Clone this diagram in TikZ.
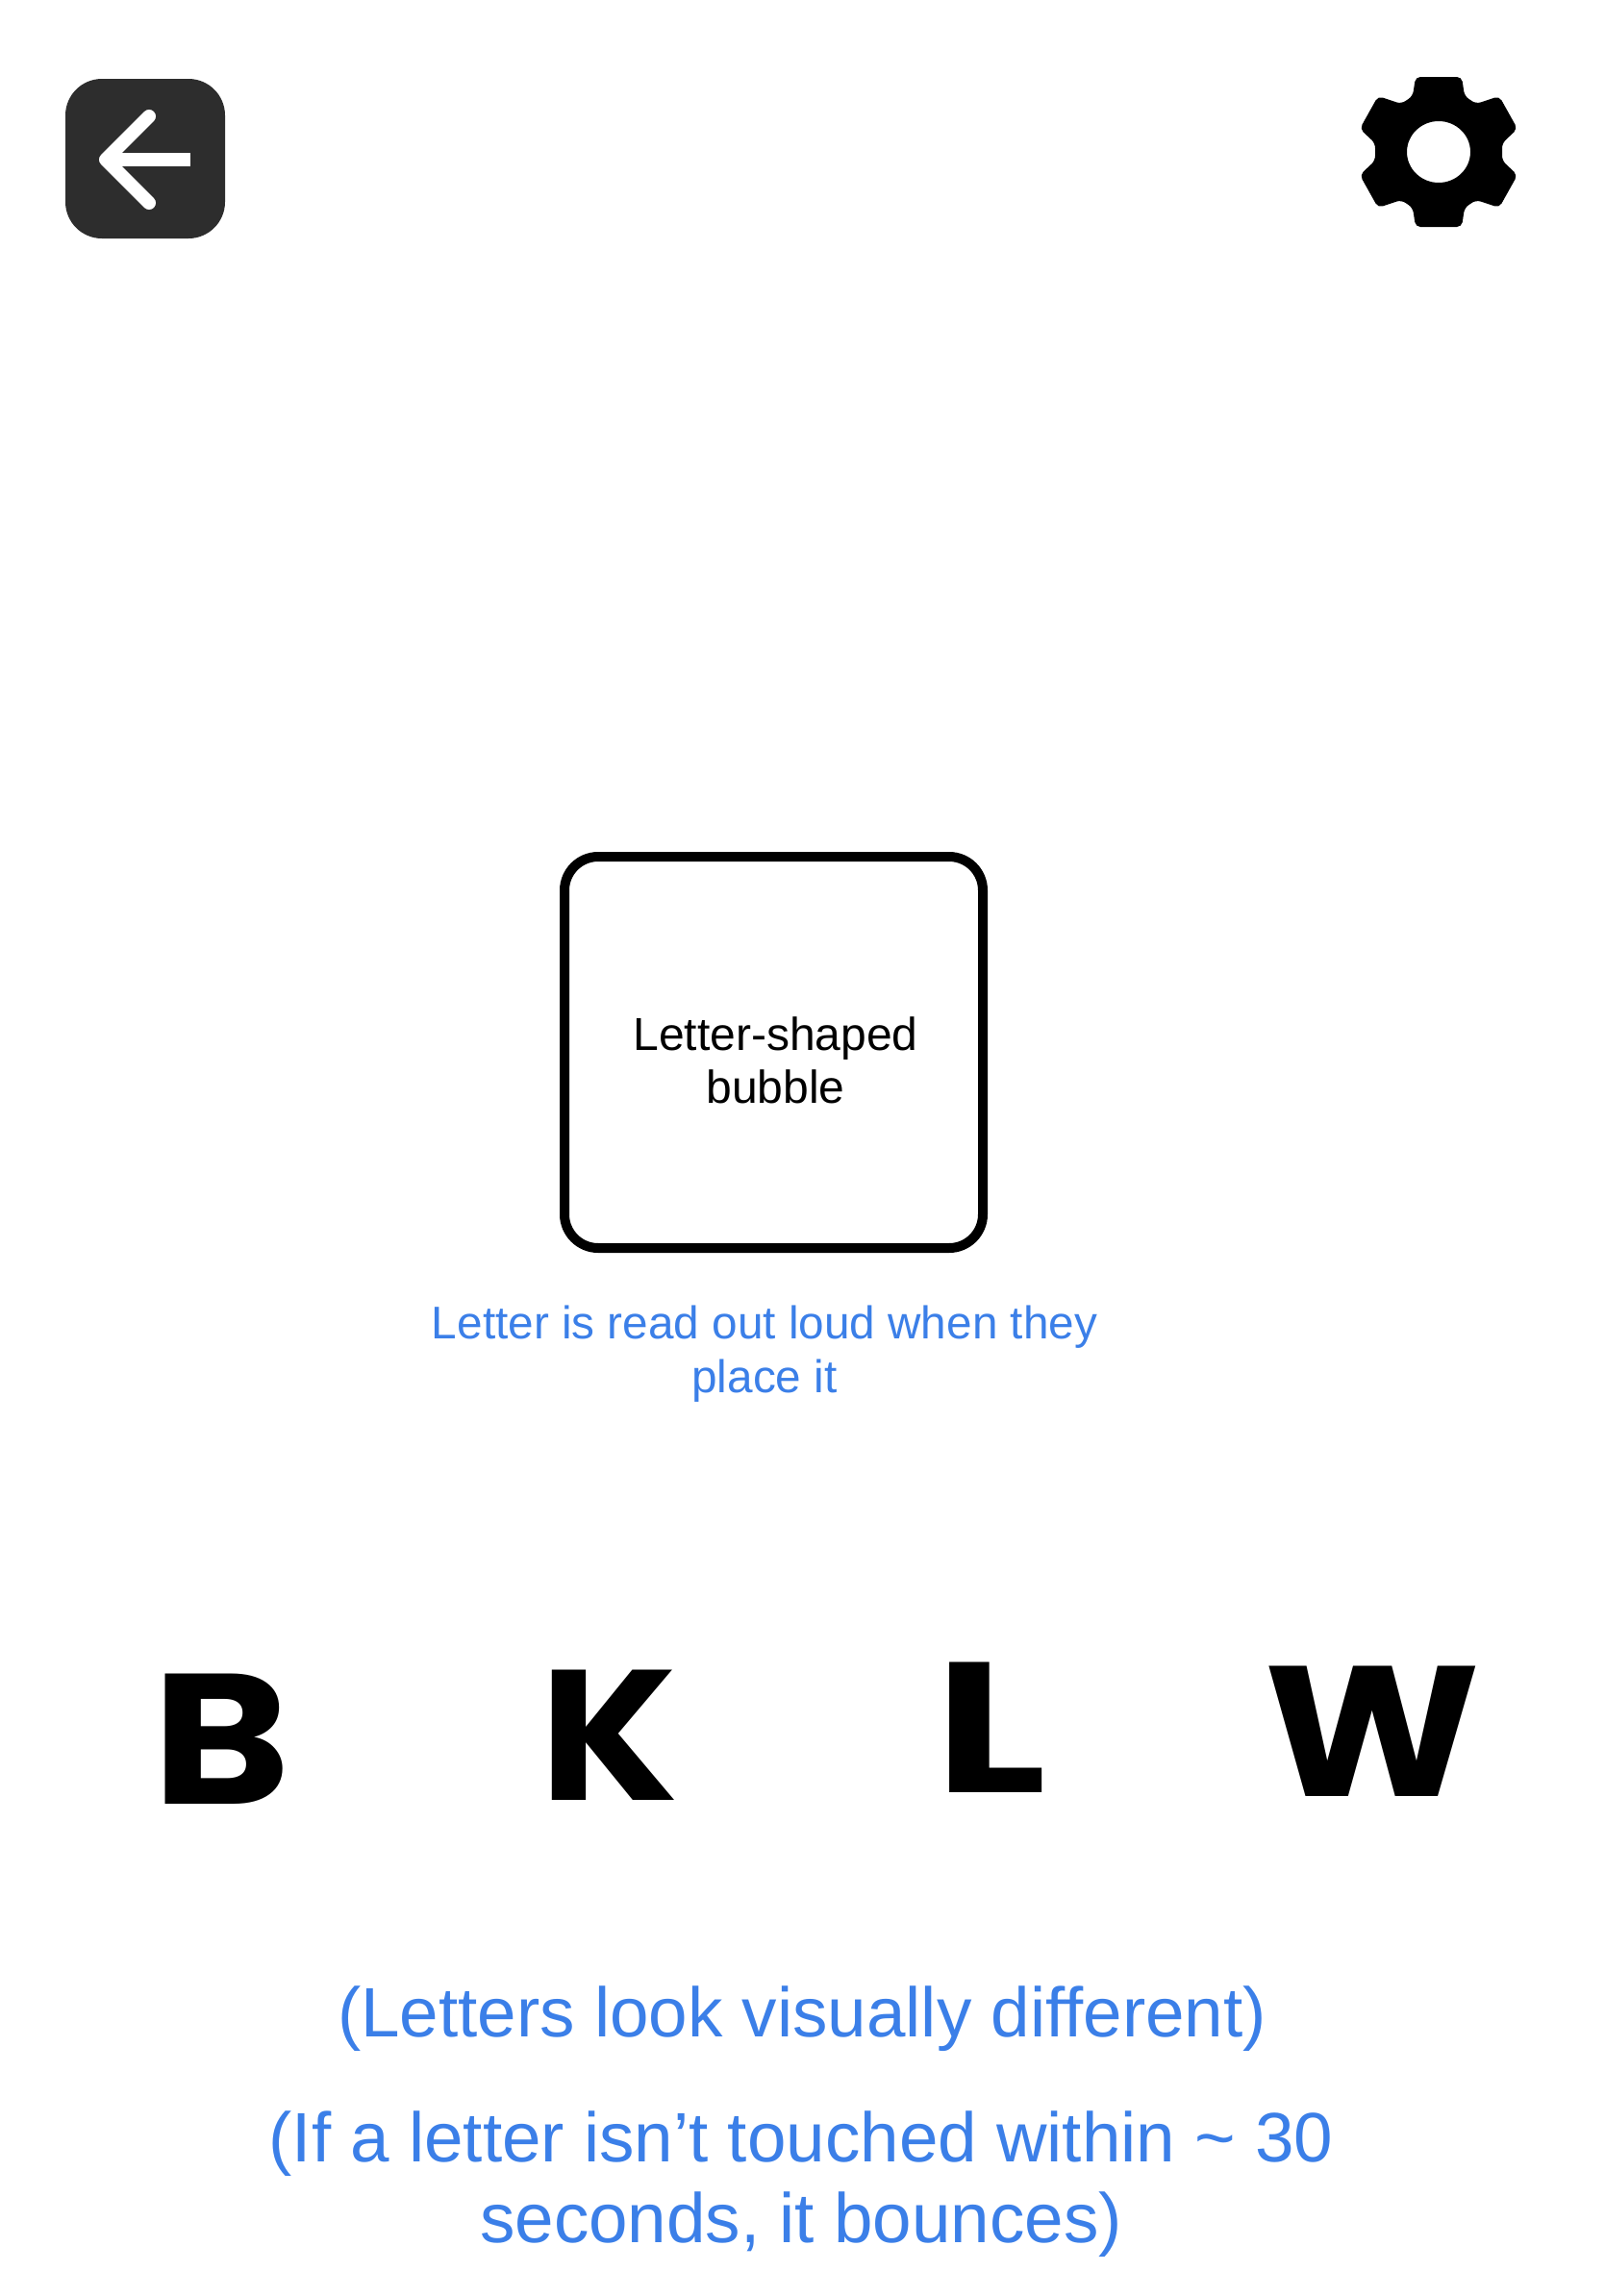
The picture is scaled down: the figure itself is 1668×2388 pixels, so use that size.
\documentclass[tikz,border=0pt]{standalone}
\usepackage{fontspec}
\usepackage{xcolor}
\setmainfont{Liberation Sans}
\newfontfamily\letterfont{Poppins}
\definecolor{noteblue}{HTML}{3B7FE8}
\definecolor{btngray}{HTML}{2D2D2D}
\usetikzlibrary{positioning}

\begin{document}
\begin{tikzpicture}[
x=1pt, y=-1pt,
backbtn/.style={fill=btngray, rounded corners=38pt, minimum width=166pt, minimum height=166pt, inner sep=0pt},
bubble/.style={draw, line width=10pt, rounded corners=35pt, minimum width=435pt, minimum height=407pt, inner sep=0pt},
bubbletext/.style={align=center, inner sep=0pt, font=\fontsize{48}{55}\selectfont},
smallnote/.style={text=noteblue, align=center, inner sep=0pt, font=\fontsize{47.7}{56}\selectfont},
bignote/.style={text=noteblue, align=center, inner sep=0pt, font=\fontsize{72.8}{84}\selectfont},
letter/.style={anchor=base, inner sep=0pt, transform shape, font=\letterfont\bfseries\fontsize{193}{193}\selectfont}
]
\useasboundingbox (0,0) rectangle (1668,2388);
\node[backbtn] (back) at (151,165) {};
\draw[white, line width=14pt, line cap=round, line join=round] (155,121) -- (110,166) -- (155,211);
\draw[white, line width=14pt] (110,166) -- (198,166);
\draw[fill=black, even odd rule, draw=none, rounded corners=5pt, shift={(1496,158)}]
  (-24,-78) -- (24,-78) -- (27,-58) -- (39,-50) -- (63,-58) -- (82,-24) -- (66,-9) -- (66,9) -- (82,24) -- (63,58) -- (39,50) -- (27,58) -- (24,78) -- (-24,78) -- (-27,58) -- (-39,50) -- (-63,58) -- (-82,24) -- (-66,9) -- (-66,-9) -- (-82,-24) -- (-63,-58) -- (-39,-50) -- (-27,-58) -- cycle
  [sharp corners] (0,0) ellipse [x radius=33, y radius=32];
\node[bubble] (bubble) at (804.5,1094.5) {};
\node[bubbletext, xshift=2pt, yshift=-8pt] (bubblelabel) at (bubble) {Letter-shaped\\bubble};
\node[smallnote] (readnote) at (795,1408) {Letter is read out loud when they\\place it};
\node[letter, xscale=1.13] (letterb) at (230,1876) {B};
\node[letter, xscale=1.07] (letterk) at (633,1872) {K};
\node[letter, xscale=1.26] (letterl) at (1030,1864) {L};
\node[letter, xscale=1.11] (letterw) at (1427,1868) {W};
\node[bignote] (looknote) at (834,2100) {(Letters look visually different)};
\node[bignote] (bouncenote) at (833,2272) {(If a letter isn’t touched within \textasciitilde{} 30\\seconds, it bounces)};
\end{tikzpicture}
\end{document}
